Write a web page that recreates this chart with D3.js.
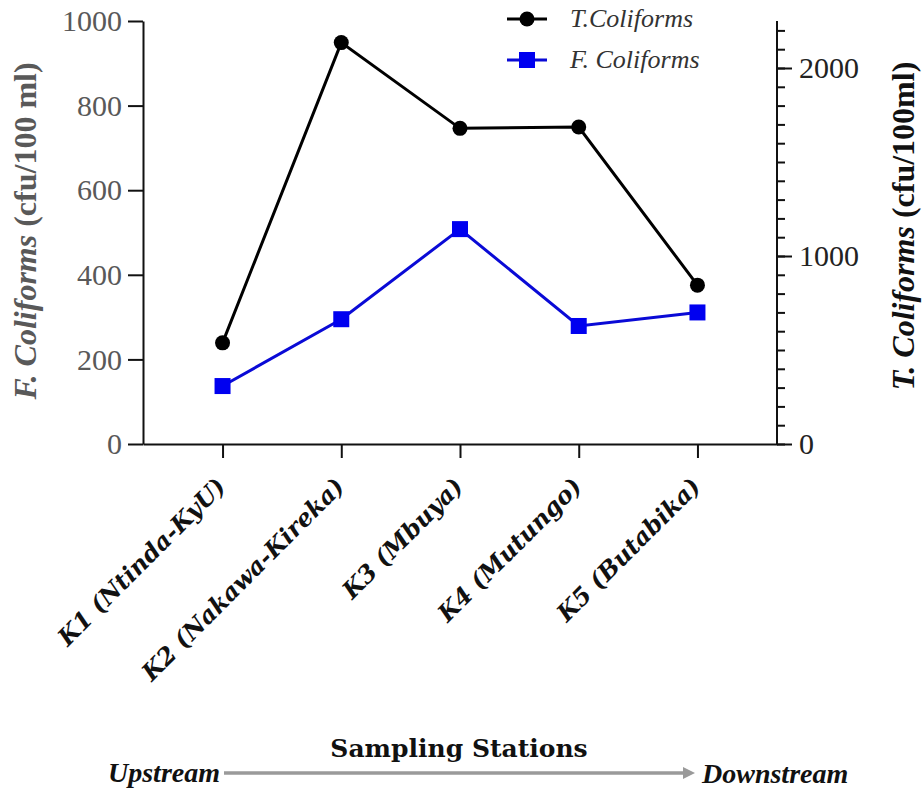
<!DOCTYPE html>
<html>
<head>
<meta charset="utf-8">
<script src="https://cdn.jsdelivr.net/npm/d3@7"></script>
<style>
    body { margin: 0; background: #fff; }
    svg { display: block; }
</style>
</head>
<body>
<svg></svg>
<script>
// chart values
let stations = ['K1 (Ntinda-KyU)', 'K2 (Nakawa-Kireka)', 'K3 (Mbuya)', 'K4 (Mutungo)', 'K5 (Butabika)'];
let fColiforms = [137, 295, 508, 279, 311];
let tColiforms = [538, 2135, 1679, 1686, 845];
let leftTicks = [0, 200, 400, 600, 800, 1000];
let rightTicks = [0, 1000, 2000];
let rightMinorTicks = d3.range(0, 2201, 100);

let sizes = {width: 923, height: 789, left: 143, right: 777, top: 21, bottom: 444};
let serif = '"Liberation Serif", "Times New Roman", serif';
let heavySerif = '"DejaVu Serif", serif';

drawChart(sizes);

function drawChart(sizes) {
    const {width, height, left, right, top, bottom} = sizes;
    let svg = d3.select('svg')
                .attr('width', width)
                .attr('height', height);

    //Scales
    let xScale = d3.scalePoint()
                    .domain(stations)
                    .range([left, right])
                    .padding(0.67);
    let yLeft = d3.scaleLinear()
                    .domain([0, 1000])
                    .range([bottom, top]);
    let yRight = d3.scaleLinear()
                    .domain([0, 2250])
                    .range([bottom, top]);

    //Axes
    let xAxis = svg.append('g')
        .attr('transform', `translate(0, ${bottom})`)
        .call(d3.axisBottom(xScale).tickSize(14).tickSizeOuter(0).tickFormat(''));

    let leftAxis = svg.append('g')
        .attr('transform', `translate(${left}, 0)`)
        .call(d3.axisLeft(yLeft)
                .tickValues(leftTicks)
                .tickFormat(d3.format('d'))
                .tickSize(15)
                .tickSizeOuter(0)
                .tickPadding(6));
    leftAxis.selectAll('text')
        .style('font-family', serif)
        .style('font-size', '30px')
        .style('fill', '#595959');

    // minor ticks on the right axis, then the labelled ones
    svg.append('g')
        .attr('transform', `translate(${right}, 0)`)
        .call(d3.axisRight(yRight).tickValues(rightMinorTicks).tickSize(8).tickSizeOuter(0).tickFormat(''))
        .select('.domain').remove();
    let rightAxis = svg.append('g')
        .attr('transform', `translate(${right}, 0)`)
        .call(d3.axisRight(yRight)
                .tickValues(rightTicks)
                .tickFormat(d3.format('d'))
                .tickSize(15)
                .tickSizeOuter(0)
                .tickPadding(7));
    rightAxis.select('.domain').attr('d', `M0,${bottom}V${top}`);
    rightAxis.selectAll('text')
        .style('font-family', serif)
        .style('font-size', '30px')
        .style('fill', '#222');

    svg.selectAll('.domain, .tick line')
        .attr('stroke', '#111')
        .attr('stroke-width', 2);

    //Rotated station labels
    xAxis.selectAll('.tick')
        .append('text')
        .attr('transform', 'translate(4, 44) rotate(-45)')
        .attr('text-anchor', 'end')
        .style('font-family', heavySerif)
        .style('font-size', '24px')
        .style('font-weight', 'bold')
        .style('font-style', 'italic')
        .style('fill', '#111')
        .text(d => d);

    //Lines and markers
    let line = d3.line()
        .x(d => xScale(d.station));

    let tData = stations.map((s, i) => ({station: s, value: tColiforms[i]}));
    let fData = stations.map((s, i) => ({station: s, value: fColiforms[i]}));

    svg.append('path')
        .datum(fData)
        .attr('fill', 'none')
        .attr('stroke', '#0a0ad6')
        .attr('stroke-width', 3)
        .attr('d', line.y(d => yLeft(d.value)));
    svg.append('g')
        .selectAll('rect')
        .data(fData)
        .enter()
        .append('rect')
            .attr('x', d => xScale(d.station) - 8)
            .attr('y', d => yLeft(d.value) - 8)
            .attr('width', 16)
            .attr('height', 16)
            .attr('fill', '#0000f0');

    svg.append('path')
        .datum(tData)
        .attr('fill', 'none')
        .attr('stroke', '#000')
        .attr('stroke-width', 3)
        .attr('d', line.y(d => yRight(d.value)));
    svg.append('g')
        .selectAll('circle')
        .data(tData)
        .enter()
        .append('circle')
            .attr('cx', d => xScale(d.station))
            .attr('cy', d => yRight(d.value))
            .attr('r', 7.5)
            .attr('fill', '#000');

    //Axis titles
    let leftTitle = svg.append('text')
        .attr('transform', `translate(36, 231) rotate(-90)`)
        .attr('text-anchor', 'middle')
        .style('font-family', serif)
        .style('font-size', '32px')
        .style('font-weight', 'bold')
        .style('fill', '#595959');
    leftTitle.append('tspan').style('font-style', 'italic').text('F. Coliforms');
    leftTitle.append('tspan').text(' (cfu/100 ml)');

    let rightTitle = svg.append('text')
        .attr('transform', `translate(914, 226) rotate(-90)`)
        .attr('text-anchor', 'middle')
        .style('font-family', serif)
        .style('font-size', '32px')
        .style('font-weight', 'bold')
        .style('fill', '#111');
    rightTitle.append('tspan').style('font-style', 'italic').text('T. Coliforms');
    rightTitle.append('tspan').text(' (cfu/100ml)');

    //Legend
    let legend = svg.append('g');
    let items = [
        {label: 'T.Coliforms', color: '#000', shape: 'circle', y: 19},
        {label: 'F. Coliforms', color: '#0a0ad6', shape: 'square', y: 60}
    ];
    items.forEach(item => {
        legend.append('line')
            .attr('x1', 507).attr('x2', 547)
            .attr('y1', item.y).attr('y2', item.y)
            .attr('stroke', item.color)
            .attr('stroke-width', 3);
        if (item.shape === 'circle') {
            legend.append('circle')
                .attr('cx', 527).attr('cy', item.y).attr('r', 7.5)
                .attr('fill', item.color);
        } else {
            legend.append('rect')
                .attr('x', 519).attr('y', item.y - 8)
                .attr('width', 16).attr('height', 16)
                .attr('fill', '#0000f0');
        }
        legend.append('text')
            .attr('x', 570)
            .attr('y', item.y + 8)
            .style('font-family', serif)
            .style('font-size', '26px')
            .style('font-style', 'italic')
            .style('fill', '#333')
            .text(item.label);
    });

    //Sampling stations title and flow arrow
    svg.append('text')
        .attr('x', 459)
        .attr('y', 757)
        .attr('text-anchor', 'middle')
        .style('font-family', heavySerif)
        .style('font-size', '25px')
        .style('font-weight', 'bold')
        .style('fill', '#111')
        .text('Sampling Stations');

    svg.append('defs')
        .append('marker')
            .attr('id', 'arrowhead')
            .attr('viewBox', '0 0 10 10')
            .attr('refX', 0)
            .attr('refY', 5)
            .attr('markerUnits', 'userSpaceOnUse')
            .attr('markerWidth', 15)
            .attr('markerHeight', 12)
            .attr('orient', 'auto')
        .append('path')
            .attr('d', 'M0,0L10,5L0,10Z')
            .attr('fill', '#9a9a9a');

    svg.append('line')
        .attr('x1', 224).attr('x2', 683)
        .attr('y1', 773).attr('y2', 773)
        .attr('stroke', '#9a9a9a')
        .attr('stroke-width', 3.5)
        .attr('marker-end', 'url(#arrowhead)');

    svg.append('text')
        .attr('x', 108)
        .attr('y', 782)
        .style('font-family', serif)
        .style('font-size', '28px')
        .style('font-weight', 'bold')
        .style('font-style', 'italic')
        .style('fill', '#111')
        .text('Upstream');

    svg.append('text')
        .attr('x', 702)
        .attr('y', 783)
        .style('font-family', serif)
        .style('font-size', '28px')
        .style('font-weight', 'bold')
        .style('font-style', 'italic')
        .style('fill', '#111')
        .text('Downstream');
}
</script>
</body>
</html>
